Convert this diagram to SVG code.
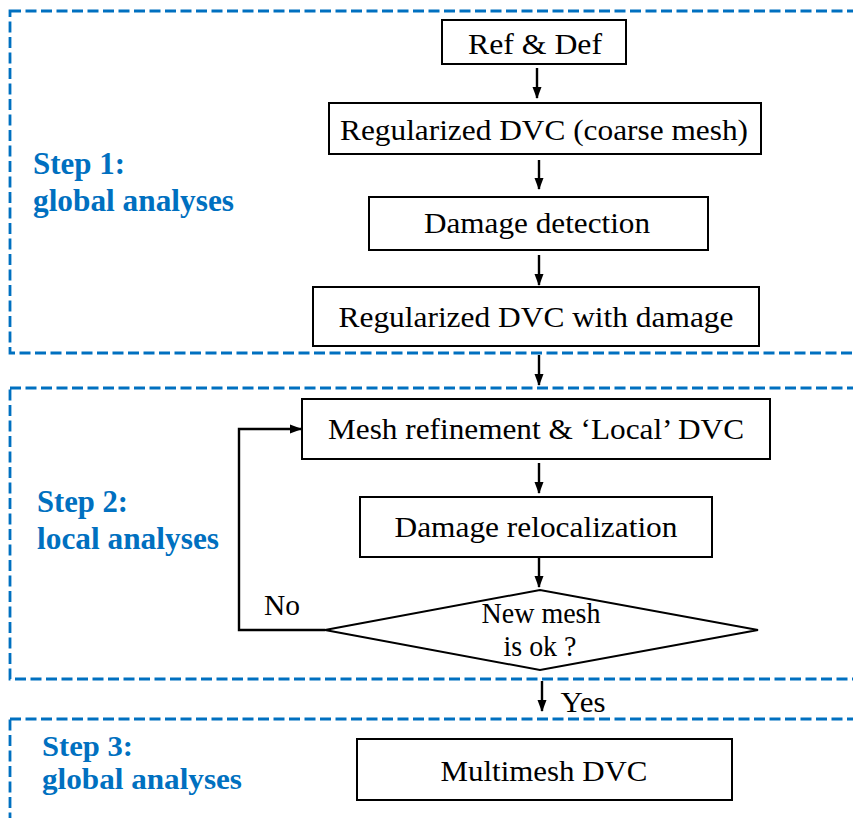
<svg xmlns="http://www.w3.org/2000/svg" width="853" height="818" viewBox="0 0 853 818">
<defs>
<marker id="ah" markerWidth="12" markerHeight="10" refX="11" refY="5" orient="auto" markerUnits="userSpaceOnUse">
<path d="M0,0.5 L12,5 L0,9.5 Z" fill="#000"/>
</marker>
<style>
.frame{fill:none;stroke:#0070C0;stroke-width:2.8;stroke-dasharray:11 4.5}
.box{fill:#fff;stroke:#000;stroke-width:2}
.t{font-family:"Liberation Serif","Times New Roman",serif;font-size:30px;fill:#000;text-anchor:middle}
.s{font-family:"Liberation Serif","Times New Roman",serif;font-size:31px;font-weight:bold;fill:#0070C0}
.s3{font-size:30px}
.c{fill:none;stroke:#000;stroke-width:2.4}
</style>
</defs>
<rect width="853" height="818" fill="#fff"/>
<g id="frames">
<rect class="frame" x="10" y="11" width="870" height="342"/>
<rect class="frame" x="10" y="388" width="870" height="291"/>
<rect class="frame" x="10" y="719" width="870" height="120"/>
</g>
<g id="labels">
<text class="s" x="33" y="174" textLength="92" lengthAdjust="spacingAndGlyphs">Step 1:</text>
<text class="s" x="33" y="211" textLength="201" lengthAdjust="spacingAndGlyphs">global analyses</text>
<text class="s" x="37" y="512" textLength="91" lengthAdjust="spacingAndGlyphs">Step 2:</text>
<text class="s" x="37" y="549" textLength="182" lengthAdjust="spacingAndGlyphs">local analyses</text>
<text class="s s3" x="42" y="756" textLength="91" lengthAdjust="spacingAndGlyphs">Step 3:</text>
<text class="s s3" x="42" y="789" textLength="200" lengthAdjust="spacingAndGlyphs">global analyses</text>
</g>
<g id="connectors">
<line class="c" x1="537" y1="68" x2="537" y2="98" marker-end="url(#ah)"/>
<line class="c" x1="539" y1="160" x2="539" y2="189" marker-end="url(#ah)"/>
<line class="c" x1="539" y1="255" x2="539" y2="285" marker-end="url(#ah)"/>
<line class="c" x1="539" y1="355" x2="539" y2="385" marker-end="url(#ah)"/>
<line class="c" x1="539" y1="463" x2="539" y2="493" marker-end="url(#ah)"/>
<line class="c" x1="539" y1="557" x2="539" y2="587" marker-end="url(#ah)"/>
<line class="c" x1="542" y1="681" x2="542" y2="711" marker-end="url(#ah)"/>
<polyline class="c" points="325,630 239,630 239,429 301,429" marker-end="url(#ah)"/>
<text class="t" x="282" y="615" textLength="36" lengthAdjust="spacingAndGlyphs">No</text>
<text class="t" x="583" y="712" textLength="45" lengthAdjust="spacingAndGlyphs">Yes</text>
</g>
<g id="n1">
<rect class="box" x="442" y="20" width="184" height="44"/>
<text class="t" x="535" y="54" textLength="134" lengthAdjust="spacingAndGlyphs">Ref &amp; Def</text>
</g>
<g id="n2">
<rect class="box" x="329" y="103" width="432" height="51"/>
<text class="t" x="544" y="140" textLength="408" lengthAdjust="spacingAndGlyphs">Regularized DVC (coarse mesh)</text>
</g>
<g id="n3">
<rect class="box" x="369" y="197" width="339" height="53"/>
<text class="t" x="537" y="233" textLength="226" lengthAdjust="spacingAndGlyphs">Damage detection</text>
</g>
<g id="n4">
<rect class="box" x="313" y="287" width="446" height="59"/>
<text class="t" x="536" y="327" textLength="395" lengthAdjust="spacingAndGlyphs">Regularized DVC with damage</text>
</g>
<g id="n5">
<rect class="box" x="302" y="399" width="468" height="60"/>
<text class="t" x="536" y="439" textLength="416" lengthAdjust="spacingAndGlyphs">Mesh refinement &amp; ‘Local’ DVC</text>
</g>
<g id="n6">
<rect class="box" x="360" y="497" width="352" height="60"/>
<text class="t" x="536" y="537" textLength="283" lengthAdjust="spacingAndGlyphs">Damage relocalization</text>
</g>
<g id="n7">
<polygon class="box" points="325,630 540,590 758,630 540,670"/>
<text class="t" x="541" y="623" textLength="119" lengthAdjust="spacingAndGlyphs">New mesh</text>
<text class="t" x="540" y="656" textLength="73" lengthAdjust="spacingAndGlyphs">is ok ?</text>
</g>
<g id="n8">
<rect class="box" x="357" y="739" width="375" height="61"/>
<text class="t" x="544" y="781" textLength="207" lengthAdjust="spacingAndGlyphs">Multimesh DVC</text>
</g>
</svg>
